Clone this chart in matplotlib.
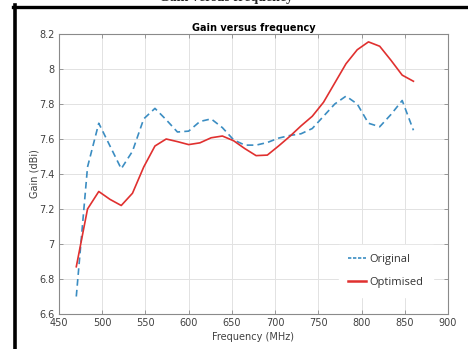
import matplotlib
matplotlib.use('Agg')
import matplotlib.pyplot as plt
from matplotlib.ticker import FuncFormatter
from matplotlib.lines import Line2D

# frequency points (MHz)
freq = [470, 483, 496, 509, 522, 535, 548, 561, 574, 587,
        600, 613, 626, 639, 652, 665, 678, 691, 704, 717,
        730, 743, 756, 769, 782, 795, 808, 821, 834, 847, 860]

# gain (dBi)
gain_original = [6.70, 7.44, 7.69, 7.56, 7.43, 7.53, 7.715, 7.775, 7.71, 7.64,
                 7.645, 7.70, 7.715, 7.665, 7.595, 7.565, 7.565, 7.58, 7.605, 7.62,
                 7.63, 7.66, 7.73, 7.80, 7.845, 7.80, 7.69, 7.67, 7.74, 7.82, 7.65]
gain_optimised = [6.87, 7.20, 7.30, 7.255, 7.22, 7.29, 7.44, 7.56, 7.60, 7.585,
                  7.568, 7.578, 7.607, 7.617, 7.59, 7.545, 7.505, 7.508, 7.56, 7.615,
                  7.675, 7.73, 7.81, 7.92, 8.03, 8.11, 8.155, 8.13, 8.05, 7.965, 7.93]

W, H = 468, 349
fig = plt.figure(figsize=(W / 100, H / 100), dpi=100)
fig.patch.set_facecolor('white')

# axes placed in pixels: x 59..448, y 34..314
ax = fig.add_axes([59 / W, (H - 314) / H, (448 - 59) / W, (314 - 34) / H])

blue = '#3b8dc2'
red = '#e0302f'
ax.plot(freq, gain_original, color=blue, lw=1.2, linestyle=(0, (4, 2.5)))
ax.plot(freq, gain_optimised, color=red, lw=1.2)

ax.set_xlim(450, 900)
ax.set_ylim(6.6, 8.2)
ax.set_xticks(range(450, 901, 50))
ax.set_yticks([6.6, 6.8, 7.0, 7.2, 7.4, 7.6, 7.8, 8.0, 8.2])
ax.yaxis.set_major_formatter(FuncFormatter(lambda v, p: '%g' % round(v, 2)))

ax.grid(True, color='#e2e2e2', lw=0.7)
ax.set_axisbelow(True)
for s in ax.spines.values():
    s.set_color('#8a8a8a')
    s.set_linewidth(0.8)
ax.tick_params(direction='in', length=3, width=0.6, color='#8a8a8a',
               labelsize=7, labelcolor='#404040', top=True, right=True, pad=3)

ax.set_title('Gain versus frequency', fontsize=7, fontweight='bold', pad=2.5)
ax.set_xlabel('Frequency (MHz)', fontsize=7, color='#404040', labelpad=2.5)
ax.set_ylabel('Gain (dBi)', fontsize=7, color='#404040', labelpad=0)

# legend in the lower right, white box with no frame
handles = [Line2D([0], [0], color=blue, lw=1.2, linestyle=(0, (2, 1))),
           Line2D([0], [0], color=red, lw=1.8)]
leg = ax.legend(handles, ['Original', 'Optimised'], loc='lower right',
                bbox_to_anchor=(0.975, 0.04), frameon=True, fancybox=False,
                edgecolor='white', framealpha=1, handlelength=1.7,
                handletextpad=0.3, labelspacing=1.15, borderpad=0.8,
                prop={'family': 'Open Sans', 'size': 8})
for t in leg.get_texts():
    t.set_color('#333333')

# black border of the cropped page
fig.add_artist(Line2D([14.5 / W, 14.5 / W], [0, (H - 5) / H], color='black', lw=2.6))
fig.add_artist(Line2D([13 / W, 1], [(H - 6.5) / H, (H - 6.5) / H], color='black', lw=2.4))

# cut-off caption above the frame
fig.text(226 / W, (H - 1.5) / H, 'Gain versus frequency', ha='center', va='baseline',
         fontsize=10, fontweight='bold', family='Liberation Serif', color='#222222')

fig.savefig('out.png', dpi=100)
